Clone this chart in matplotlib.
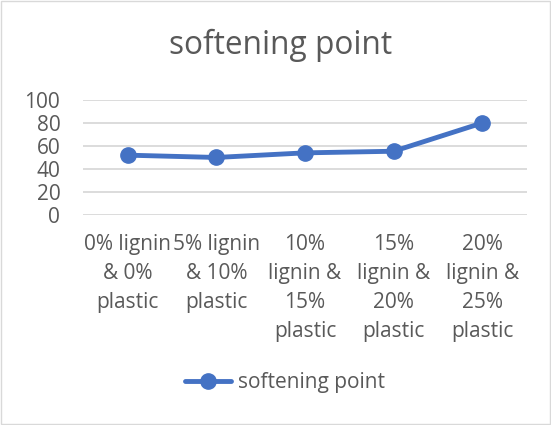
import matplotlib.pyplot as plt

categories = ["0% lignin\n& 0%\nplastic", "5% lignin\n& 10%\nplastic",
              "10%\nlignin &\n15%\nplastic", "15%\nlignin &\n20%\nplastic",
              "20%\nlignin &\n25%\nplastic"]
softening = [52, 50, 54, 55.4, 80]
yticks = [0, 20, 40, 60, 80, 100]

plt.rcParams['font.family'] = ['Open Sans', 'DejaVu Sans']
gray = '#595959'

fig = plt.figure(figsize=(5.51, 4.25), dpi=100)
ax = fig.add_axes([0.151, 0.494, 0.805, 0.271])

x = range(len(categories))
ax.plot(x, softening, color='#4472C4', linewidth=3.5, marker='o', markersize=11,
        label='softening point', solid_capstyle='round')
ax.set_xlim(-0.5, len(categories) - 0.5)
ax.set_ylim(0, 100)
ax.set_yticks(yticks)
ax.set_xticks(list(x))
ax.set_xticklabels(categories, linespacing=1.48)
ax.tick_params(axis='both', length=0, colors=gray, labelsize=15)
ax.tick_params(axis='x', pad=14)
ax.tick_params(axis='y', pad=16.5)
ax.grid(axis='y', color='#d9d9d9', linewidth=1.3)
ax.set_axisbelow(True)
for s in ax.spines.values():
    s.set_visible(False)

fig.text(0.509, 0.893, 'softening point', ha='center', va='center', fontsize=22.8, color=gray)
fig.legend(loc='center', bbox_to_anchor=(0.518, 0.099), frameon=False, fontsize=15,
           labelcolor=gray, handlelength=2.2, handletextpad=0.35)

border = plt.Rectangle((0.002, 0.002), 0.996, 0.996, transform=fig.transFigure,
                       fill=False, edgecolor='#d9d9d9', linewidth=1)
fig.patches.append(border)

fig.savefig('out.png', dpi=100)
